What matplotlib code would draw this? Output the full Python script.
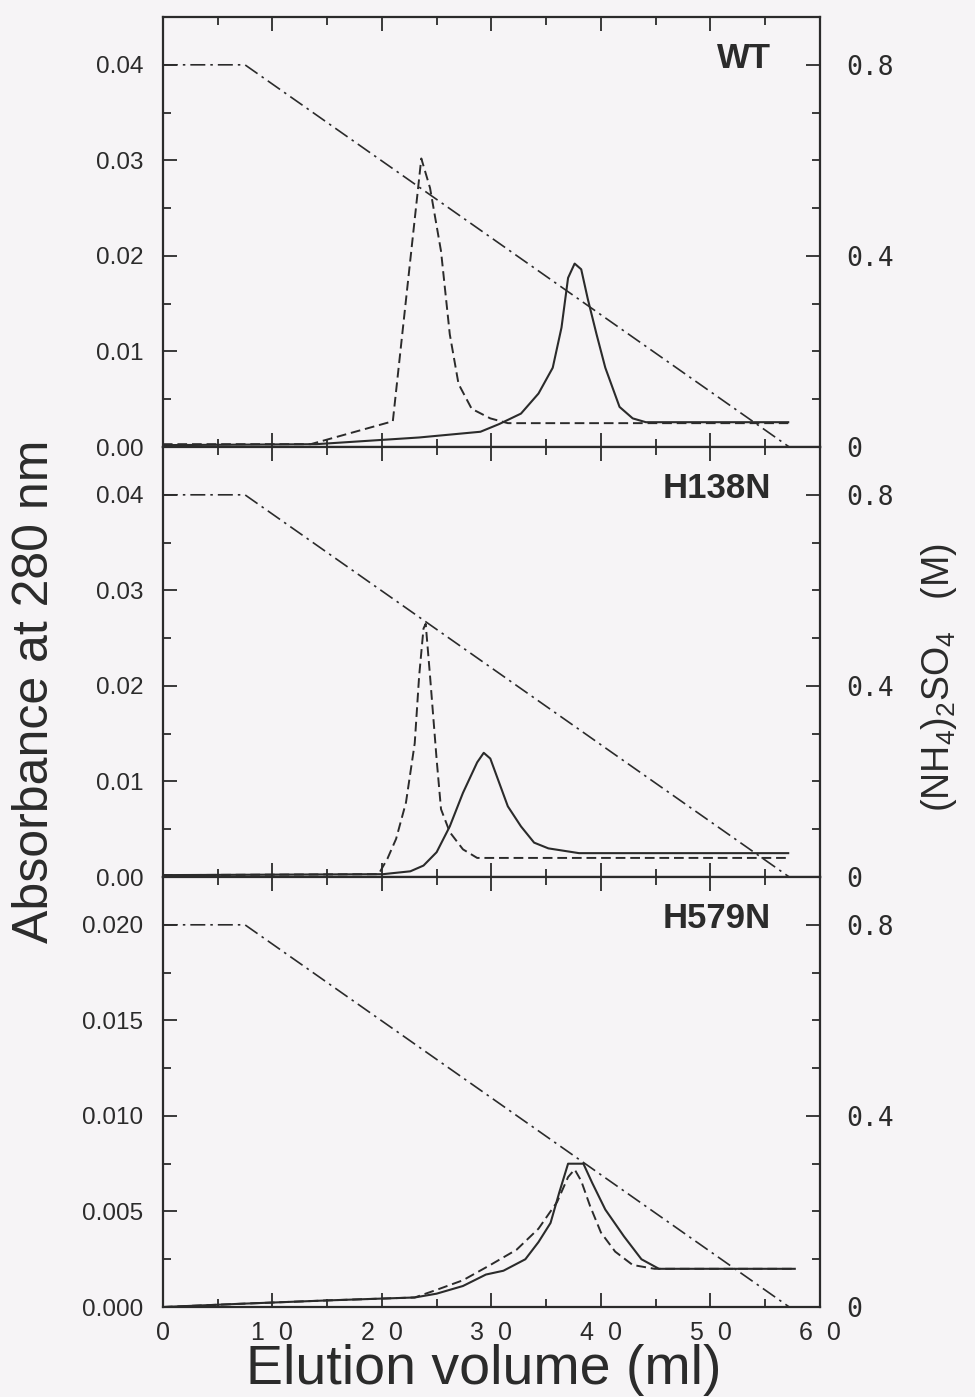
import matplotlib
matplotlib.use("Agg")
import matplotlib.pyplot as plt
from matplotlib.ticker import MultipleLocator, FixedLocator

plt.rcParams["font.family"] = ["Liberation Sans", "DejaVu Sans"]
plt.rcParams["mathtext.default"] = "regular"

INK = "#2b2b2b"
BG = "#f6f4f6"

# ammonium sulfate gradient (M), same in every run
grad_ml = [0, 7.5, 57.2]
grad_M = [0.8, 0.8, 0.0]

# WT
wt_dash_ml = [0, 13.5, 21.0, 23.6, 24.4, 25.4, 26.2, 27.0, 28.2, 29.9, 31.5, 57.1]
wt_dash_a = [0.0003, 0.0003, 0.0027, 0.0302, 0.0271, 0.0205, 0.0118, 0.0066,
             0.0040, 0.0030, 0.0025, 0.0025]
wt_solid_ml = [0, 14, 23.4, 29.0, 30.7, 32.7, 34.3, 35.6, 36.4, 37.0, 37.6, 38.2,
               38.8, 39.6, 40.4, 41.7, 42.9, 44.1, 57.1]
wt_solid_a = [0.0002, 0.0003, 0.0010, 0.0016, 0.0024, 0.0035, 0.0056, 0.0083, 0.0125,
              0.0177, 0.0192, 0.0186, 0.0155, 0.0118, 0.0083, 0.0042, 0.0030, 0.0026, 0.0026]

# H138N
h138_dash_ml = [0, 19.7, 20.5, 21.3, 22.2, 23.0, 23.4, 23.8, 24.0, 24.4, 25.0, 25.4,
                26.2, 27.4, 28.7, 56.9]
h138_dash_a = [0.0002, 0.0003, 0.0019, 0.0040, 0.0078, 0.0140, 0.0210, 0.0260, 0.0265,
               0.0210, 0.0123, 0.0071, 0.0047, 0.0029, 0.0020, 0.0020]
h138_solid_ml = [0, 20.1, 22.6, 23.8, 25.0, 26.2, 27.4, 28.7, 29.3, 29.9, 30.7, 31.5,
                 32.7, 33.9, 35.2, 38.0, 57.1]
h138_solid_a = [0.0002, 0.0003, 0.0006, 0.0012, 0.0026, 0.0053, 0.0088, 0.0120, 0.0130,
                0.0124, 0.0099, 0.0074, 0.0053, 0.0036, 0.0030, 0.0025, 0.0025]

# H579N
h579_solid_ml = [0, 7.1, 15.2, 23.0, 25.0, 27.4, 29.5, 31.1, 33.1, 34.3, 35.4, 36.2,
                 37.0, 38.4, 39.2, 40.4, 42.1, 43.7, 45.3, 57.7]
h579_solid_a = [0.0, 0.00017, 0.00035, 0.0005, 0.0007, 0.0011, 0.0017, 0.0019, 0.0025,
                0.0034, 0.0044, 0.0060, 0.0075, 0.0075, 0.0065, 0.0051, 0.0037, 0.0025,
                0.0020, 0.0020]
h579_dash_ml = [0, 7.1, 15.2, 23.0, 25.0, 27.4, 29.9, 32.3, 34.3, 36.0, 37.0, 37.6,
                38.2, 39.0, 40.0, 41.3, 42.9, 44.9, 57.7]
h579_dash_a = [0.0, 0.00017, 0.00035, 0.0005, 0.0009, 0.0014, 0.0022, 0.0030, 0.0041,
               0.0055, 0.0068, 0.0072, 0.0066, 0.0053, 0.0039, 0.0029, 0.0022, 0.0020,
               0.0020]

panel_names = ["WT", "H138N", "H579N"]
abs_top = [0.045, 0.045, 0.0225]
abs_major = [0.01, 0.01, 0.005]
abs_fmt = ["{:.2f}", "{:.2f}", "{:.3f}"]
x_ticks = [0, 10, 20, 30, 40, 50, 60]
x_labels = ["0", "1  0", "2  0", "3  0", "4  0", "5  0", "6  0"]
salt_ticks = [0, 0.4, 0.8]
salt_labels = ["0", "0.4", "0.8"]

curves = [
    (wt_solid_ml, wt_solid_a, wt_dash_ml, wt_dash_a),
    (h138_solid_ml, h138_solid_a, h138_dash_ml, h138_dash_a),
    (h579_solid_ml, h579_solid_a, h579_dash_ml, h579_dash_a),
]

fig = plt.figure(figsize=(9.75, 13.97), dpi=100, facecolor=BG)

left, width = 0.167, 0.674
height = 0.3078
bottoms = [0.680, 0.3722, 0.0644]

dash = (0, (5, 2.5))
dashdot = (0, (9, 3, 1.5, 3))

for i in range(3):
    ax = fig.add_axes([left, bottoms[i], width, height], facecolor=BG)
    s_ml, s_a, d_ml, d_a = curves[i]
    ax.plot(s_ml, s_a, color=INK, lw=1.5, solid_joinstyle="round")
    ax.plot(d_ml, d_a, color=INK, lw=1.4, linestyle=dash)

    ax.set_xlim(0, 60)
    ax.set_ylim(0, abs_top[i])
    ax.xaxis.set_major_locator(FixedLocator(x_ticks))
    ax.xaxis.set_minor_locator(MultipleLocator(5))
    step = abs_major[i]
    ticks = [k * step for k in range(int(abs_top[i] / step + 1e-6) + 1)]
    ax.yaxis.set_major_locator(FixedLocator(ticks))
    ax.yaxis.set_minor_locator(MultipleLocator(step / 2))
    ax.set_yticklabels([abs_fmt[i].format(t) for t in ticks])

    ax.tick_params(which="both", direction="in", top=True, right=False,
                   color=INK, width=1.3)
    ax.tick_params(which="major", length=10, labelsize=17.5, labelcolor=INK, pad=14)
    ax.tick_params(which="minor", length=6)
    ax.tick_params(axis="x", which="major", pad=10)
    if i < 2:
        ax.tick_params(axis="x", labelbottom=False)
    else:
        ax.set_xticklabels(x_labels, fontsize=18)
    for sp in ax.spines.values():
        sp.set_color(INK)
        sp.set_linewidth(1.6)

    ax2 = ax.twinx()
    ax2.plot(grad_ml, grad_M, color=INK, lw=1.2, linestyle=dashdot)
    ax2.set_ylim(0, 0.9)
    ax2.yaxis.set_major_locator(FixedLocator(salt_ticks))
    ax2.yaxis.set_minor_locator(MultipleLocator(0.1))
    ax2.set_yticklabels(salt_labels, family="DejaVu Sans Mono", fontsize=19, color=INK)
    ax2.tick_params(which="both", direction="in", color=INK, width=1.3)
    ax2.tick_params(which="major", length=10, pad=19)
    ax2.tick_params(which="minor", length=6)
    for sp in ax2.spines.values():
        sp.set_visible(False)

    ax.text(0.925, 0.903, panel_names[i], transform=ax.transAxes, ha="right",
            va="center", fontsize=25, fontweight="bold", color=INK)

fig.text(0.036, 0.505, "Absorbance at 280 nm", rotation=90, ha="center", va="center",
         fontsize=36, color=INK)
fig.text(0.496, 0.0195, "Elution volume (ml)", ha="center", va="center",
         fontsize=40, color=INK)
fig.text(0.963, 0.515, "(NH$_4$)$_2$SO$_4$   (M)", rotation=90, ha="center",
         va="center", fontsize=27, color=INK)

fig.savefig("out.png", dpi=100, facecolor=BG)
